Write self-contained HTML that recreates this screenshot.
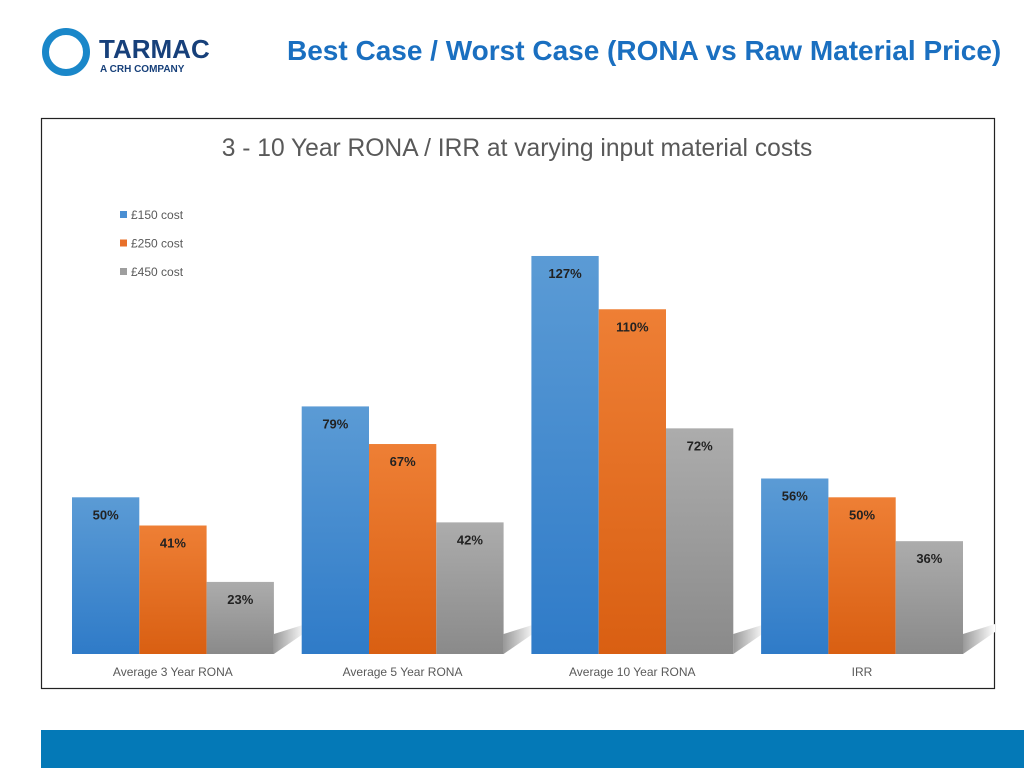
<!DOCTYPE html>
<html><head><meta charset="utf-8"><style>
body{margin:0;width:1024px;height:768px;background:#fff;position:relative;overflow:hidden;font-family:"Liberation Sans",sans-serif}
</style></head><body>
<div style="position:absolute;left:42px;top:28px;width:208px;height:52px">
<div style="position:absolute;left:0;top:0;width:34px;height:34px;border:7px solid #1a87c9;border-radius:50%"></div>
<div style="position:absolute;left:57px;top:6px;font-weight:bold;font-size:26px;color:#17407a;letter-spacing:0px">TARMAC</div>
<div style="position:absolute;left:58px;top:36px;font-weight:bold;font-size:10px;color:#17407a">A CRH COMPANY</div>
</div>
<div style="position:absolute;left:287px;top:35px;font-weight:bold;font-size:28px;color:#1a6fc0;white-space:nowrap">Best Case / Worst Case (RONA vs Raw Material Price)</div>
<svg style="position:absolute;left:0;top:0" width="1024" height="768">
<defs>
<linearGradient id="gb" x1="0" y1="0" x2="0" y2="1"><stop offset="0" stop-color="#5b9bd5"/><stop offset="1" stop-color="#2f7bc8"/></linearGradient>
<linearGradient id="go" x1="0" y1="0" x2="0" y2="1"><stop offset="0" stop-color="#ee7f35"/><stop offset="1" stop-color="#d95f12"/></linearGradient>
<linearGradient id="gg" x1="0" y1="0" x2="0" y2="1"><stop offset="0" stop-color="#acacac"/><stop offset="1" stop-color="#8a8a8a"/></linearGradient>
<linearGradient id="gs" x1="0" y1="0" x2="1" y2="0"><stop offset="0" stop-color="#999"/><stop offset="1" stop-color="#fff"/></linearGradient>
</defs>
<rect x="41.5" y="118.5" width="953" height="570" fill="#fff" stroke="#222" stroke-width="1.2"/>
<text x="517" y="156" text-anchor="middle" font-size="24.6" fill="#595959">3 - 10 Year RONA / IRR at varying input material costs</text>
<g id="legend"></g>
<g id="bars"></g>
<rect x="41" y="730" width="983" height="38" fill="#0479b7"/>
</svg>
<script>
const categories=["Average 3 Year RONA","Average 5 Year RONA","Average 10 Year RONA","IRR"];
const seriesNames=["£150 cost","£250 cost","£450 cost"];
const s150=[50,79,127,56];
const s250=[41,67,110,50];
const s450=[23,42,72,36];
const series=[s150,s250,s450];
const fills=["url(#gb)","url(#go)","url(#gg)"];
const legCol=["#4a8fd3","#e8702a","#9e9e9e"];
const NS="http://www.w3.org/2000/svg";
const x0=58,band=229.7,bw=67.3,off=14,base=654,k=3.134;
const xs=(c,s)=>x0+c*band+off+s*bw;
const ys=v=>base-v*k;
const g=document.getElementById('bars');
function mk(t,a,p){const e=document.createElementNS(NS,t);for(const q in a)e.setAttribute(q,a[q]);p.appendChild(e);return e;}
categories.forEach((c,ci)=>{
  const sx=xs(ci,2)+bw;
  const sh=mk('polygon',{points:`${sx},${base-20} ${sx+32},${base-30} ${sx+32},${base-22} ${sx},${base}`,fill:'url(#gs)'},g);
  
  
  series.forEach((sv,si)=>{
    const v=sv[ci];
    const r=mk('rect',{x:xs(ci,si),y:ys(v),width:bw,height:base-ys(v),fill:fills[si]},g);
    
    
    const t=mk('text',{x:xs(ci,si)+bw/2,y:ys(v)+22,'text-anchor':'middle','font-size':13,'font-weight':'bold',fill:'#222'},g);
    t.textContent=v+'%';
    
    
  });
  const l=mk('text',{x:x0+ci*band+band/2,y:676,'text-anchor':'middle','font-size':12,fill:'#595959'},g);
  l.textContent=c;
  
  
});
const lg=document.getElementById('legend');
seriesNames.forEach((n,i)=>{
  const r=mk('rect',{x:120,y:211+i*28.5,width:7,height:7,fill:legCol[i]},lg);
  
  
  const t=mk('text',{x:131,y:219+i*28.5,'font-size':12,fill:'#595959'},lg);
  t.textContent=n;
  
  
});
</script>
</body></html>
